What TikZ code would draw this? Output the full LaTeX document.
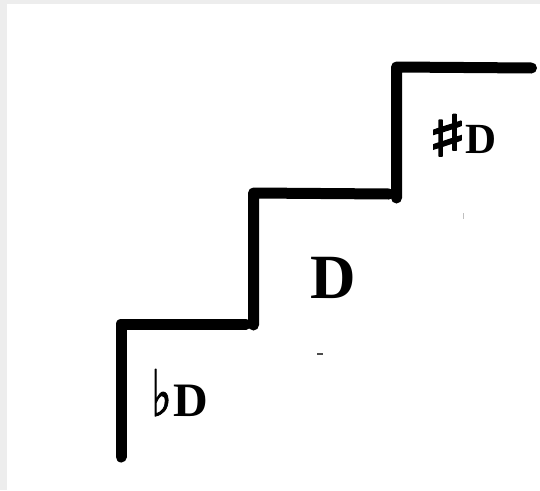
\documentclass[tikz,border=0pt]{standalone}
\usepackage{fontspec}
\usepackage{graphicx}
\setmainfont{Liberation Serif}
\newfontfamily\flatfont[FakeBold=1.5]{DejaVu Sans}
\newfontfamily\sharpfont[FakeBold=3]{DejaVu Sans}
\begin{document}
\begin{tikzpicture}[x=1pt,y=-1pt,
  stair/.style={line width=11pt,line cap=round,line join=round,black},
  lbl/.style={inner sep=0pt,anchor=base west,font=\bfseries}]
\useasboundingbox (0,0) rectangle (540,490);
\fill[black!7] (0,0) rectangle (540,490);
\fill[white] (7,4) rectangle (540,490);
% step 1
\coordinate (a1) at (121,457);
\coordinate (a2) at (121,324);
\coordinate (a3) at (246,324);
% step 2
\coordinate (b1) at (253.5,325);
\coordinate (b2) at (253.5,193);
\coordinate (b3) at (389,194);
% step 3
\coordinate (c1) at (396.5,198);
\coordinate (c2) at (396.5,67);
\coordinate (c3) at (531.5,68);
\draw[stair] (a1) -- (a2) -- (a3);
\draw[stair] (b1) -- (b2) -- (b3);
\draw[stair] (c1) -- (c2) -- (c3);
% labels
\node[lbl,font=\fontsize{48}{48}\selectfont\bfseries] (flat) at (151,416) {\scalebox{0.68}[1]{\flatfont\fontsize{64}{64}\selectfont ♭}\hspace{2pt}D};
\node[lbl,font=\fontsize{42}{42}\selectfont\bfseries] (nat) at (310,298) {\fontsize{63}{63}\selectfont D};
\node[lbl,font=\fontsize{43}{43}\selectfont\bfseries] (sharp) at (427,153) {\raisebox{-3pt}{\scalebox{1.55}[1.05]{\sharpfont\fontsize{54}{54}\selectfont ♯}}\hspace{-2pt}D};
% specks
\draw[line width=1.5pt,black!70] (317,354) -- (323,354);
\draw[line width=0.8pt,black!25] (463,213) -- (463,219);
\end{tikzpicture}
\end{document}
